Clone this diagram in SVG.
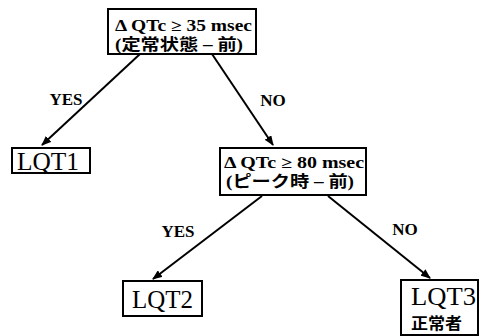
<svg xmlns="http://www.w3.org/2000/svg" width="480" height="336" viewBox="0 0 480 336">
<style>
.box{fill:#fff;stroke:#000;stroke-width:2}
.c{stroke:#000;stroke-width:2;fill:none;marker-end:url(#ah)}
.s{font-family:"Liberation Serif","Noto Sans CJK JP","DejaVu Serif",serif;fill:#000}
.b{font-weight:bold;font-size:16px}
.y{font-weight:bold;font-size:17px;text-anchor:middle}
.l{font-size:25px}
</style>
<defs>
<marker id="ah" viewBox="0 0 10 8" refX="9" refY="4" markerWidth="5" markerHeight="4" orient="auto" markerUnits="strokeWidth">
<path d="M0,0 L10,4 L0,8 z" fill="#000"/>
</marker>
</defs>
<g id="connectors">
<line class="c" x1="140" y1="54" x2="42" y2="145"/>
<line class="c" x1="212" y1="54" x2="273" y2="145"/>
<line class="c" x1="262" y1="196" x2="153" y2="279"/>
<line class="c" x1="328" y1="196" x2="430" y2="278"/>
<text class="s y" x="66" y="105">YES</text>
<text class="s y" x="273" y="106">NO</text>
<text class="s y" x="178" y="237">YES</text>
<text class="s y" x="405" y="235">NO</text>
</g>
<g id="n1">
<rect class="box" x="108" y="9" width="148" height="45"/>
<text class="s b" x="115" y="31" textLength="137" lengthAdjust="spacingAndGlyphs">Δ QTc ≥ 35 msec</text>
<text class="s b" x="115" y="50" textLength="128" lengthAdjust="spacingAndGlyphs">(定常状態 – 前)</text>
</g>
<g id="n2">
<rect class="box" x="12" y="148" width="78" height="25"/>
<text class="s l" x="17" y="170" textLength="62" lengthAdjust="spacingAndGlyphs">LQT1</text>
</g>
<g id="n3">
<rect class="box" x="220" y="148" width="146" height="47"/>
<text class="s b" x="224" y="168" textLength="140" lengthAdjust="spacingAndGlyphs">Δ QTc ≥ 80 msec</text>
<text class="s b" x="226" y="187" textLength="128" lengthAdjust="spacingAndGlyphs">(ピーク時 – 前)</text>
</g>
<g id="n4">
<rect class="box" x="123" y="281" width="79" height="35"/>
<text class="s l" x="132" y="308" textLength="61" lengthAdjust="spacingAndGlyphs">LQT2</text>
</g>
<g id="n5">
<rect class="box" x="401" y="280" width="77" height="55"/>
<text class="s l" x="411" y="305" textLength="65" lengthAdjust="spacingAndGlyphs">LQT3</text>
<text class="s b" x="411" y="329" font-size="17" textLength="51" lengthAdjust="spacingAndGlyphs">正常者</text>
</g>
</svg>
